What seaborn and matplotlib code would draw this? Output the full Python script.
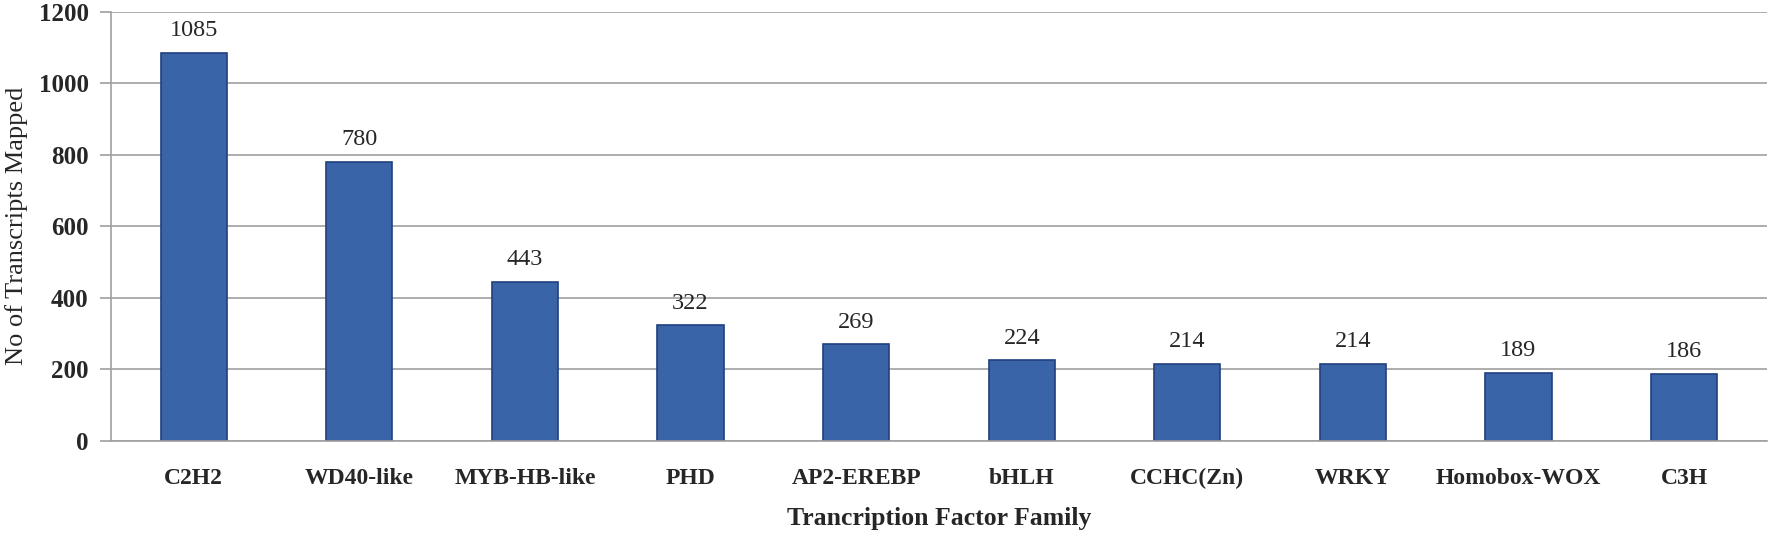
import matplotlib
matplotlib.use("Agg")
import matplotlib.pyplot as plt
import seaborn as sns
import pandas as pd

families = ["C2H2", "WD40-like", "MYB-HB-like", "PHD", "AP2-EREBP", "bHLH",
            "CCHC(Zn)", "WRKY", "Homobox-WOX", "C3H"]
counts = [1085, 780, 443, 322, 269, 224, 214, 214, 189, 186]
yticks = [0, 200, 400, 600, 800, 1000, 1200]

df = pd.DataFrame({"family": families, "count": counts})

sns.set_style("white")
plt.rcParams["font.family"] = ["Liberation Serif", "DejaVu Serif"]

fig = plt.figure(figsize=(17.72, 5.38), dpi=100)
# plot area: x 111..1767 px, y 11.5..440.5 px
ax = fig.add_axes([0.0626, 0.1812, 0.9345, 0.797])

sns.barplot(data=df, x="family", y="count", ax=ax, color="#3A64A8",
            width=0.4, edgecolor="#20407F", linewidth=1.2, saturation=1)

ax.set_ylim(0, 1200)
ax.set_yticks(yticks)
ax.set_xlim(-0.5, len(families) - 0.5)
ax.yaxis.grid(True, color="#A0A0A0", linewidth=1.2)
ax.set_axisbelow(True)

for s in ["top", "right"]:
    ax.spines[s].set_visible(False)
for s in ["left", "bottom"]:
    ax.spines[s].set_color("#A0A0A0")
    ax.spines[s].set_linewidth(1.2)

ax.tick_params(axis="y", left=True, length=8, width=1.2, color="#A0A0A0",
               labelsize=18, pad=8)
ax.tick_params(axis="x", bottom=False, labelsize=17, pad=16)
for lab in ax.get_yticklabels() + ax.get_xticklabels():
    lab.set_fontweight("bold")

for i, v in enumerate(counts):
    ax.annotate(str(v), (i, v), xytext=(0, 8.5), textcoords="offset points",
                ha="center", va="bottom", fontsize=17.5)

ax.set_xlabel("Trancription Factor Family", fontsize=18.5, fontweight="bold", labelpad=13)
ax.set_ylabel("No of Transcripts Mapped", fontsize=19, labelpad=8)

fig.savefig("out.png", dpi=100)
